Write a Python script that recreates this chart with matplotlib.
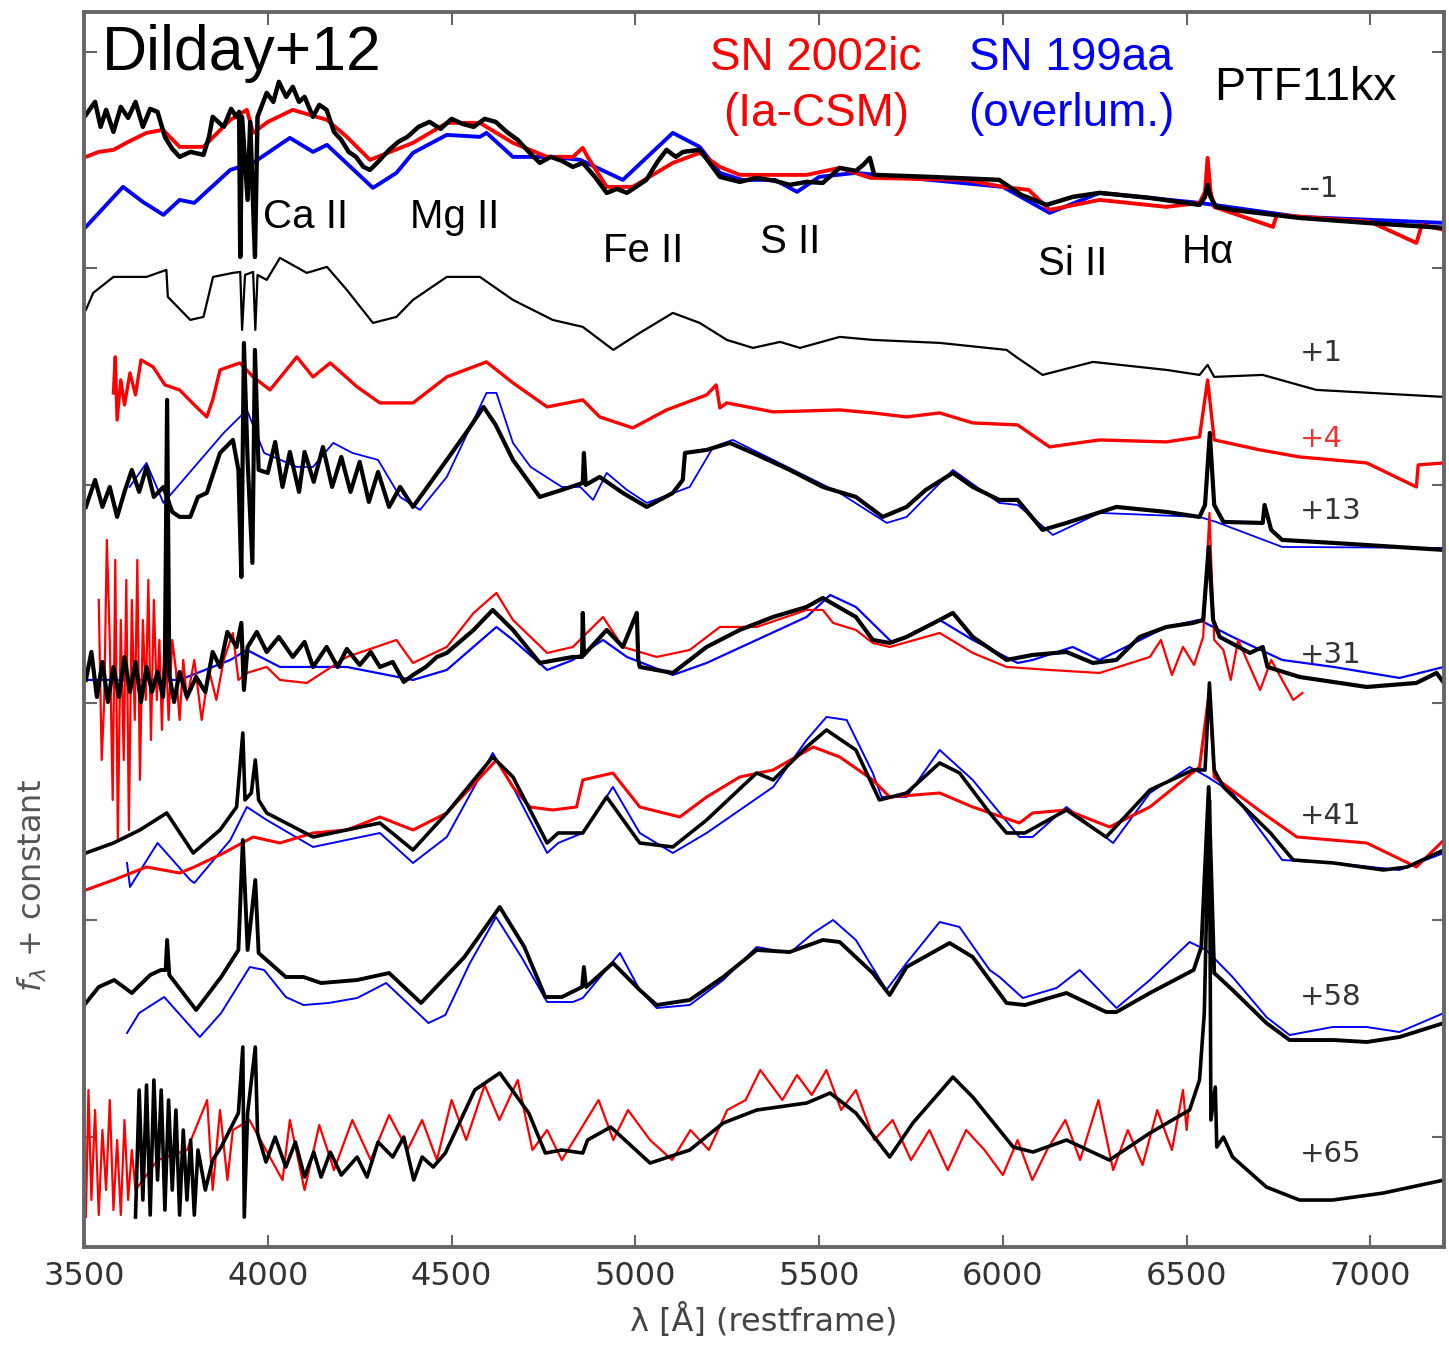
import matplotlib.pyplot as plt

# (wavelength [A], f_lambda + constant) pairs, one list per spectrum
BLACK_M1 = [(3505, 11.32), (3530, 11.45), (3545, 11.20), (3560, 11.37), (3580, 11.15), (3600, 11.40),
            (3620, 11.29), (3640, 11.45), (3660, 11.20), (3680, 11.38), (3700, 11.35), (3720, 11.10),
            (3740, 10.98), (3760, 10.90), (3790, 10.95), (3825, 10.92), (3840, 11.10), (3850, 11.30),
            (3880, 11.20), (3900, 11.38), (3915, 11.30), (3922, 11.35), (3925, 9.90), (3930, 11.30),
            (3945, 10.47), (3952, 11.25), (3965, 9.90), (3972, 11.30), (3997, 11.54), (4015, 11.45),
            (4030, 11.65), (4050, 11.50), (4068, 11.60), (4085, 11.45), (4100, 11.50), (4123, 11.30),
            (4140, 11.42), (4160, 11.37), (4180, 11.15), (4200, 11.07), (4220, 10.95), (4240, 10.90),
            (4260, 10.80), (4278, 10.77), (4300, 10.85), (4330, 10.97), (4355, 11.05), (4380, 11.10),
            (4410, 11.20), (4440, 11.25), (4470, 11.18), (4500, 11.28), (4530, 11.23), (4560, 11.20),
            (4590, 11.28), (4620, 11.25), (4650, 11.15), (4680, 11.07), (4710, 10.95), (4740, 10.84),
            (4770, 10.90), (4800, 10.86), (4830, 10.80), (4857, 10.84), (4890, 10.70), (4922, 10.54),
            (4950, 10.58), (4977, 10.54), (5030, 10.67), (5060, 10.85), (5085, 10.97), (5110, 10.90),
            (5130, 10.95), (5175, 10.97), (5200, 10.85), (5230, 10.70), (5284, 10.65), (5330, 10.69),
            (5380, 10.66), (5420, 10.62), (5466, 10.65), (5510, 10.64), (5556, 10.79), (5600, 10.76),
            (5620, 10.82), (5638, 10.89), (5650, 10.72), (5800, 10.70), (5990, 10.67), (6050, 10.52),
            (6119, 10.42), (6190, 10.50), (6263, 10.54), (6400, 10.49), (6535, 10.42), (6550, 10.50),
            (6557, 10.62), (6565, 10.50), (6580, 10.40), (6625, 10.37), (6807, 10.29), (6990, 10.24),
            (7200, 10.19)]
RED_M1 = [(3505, 10.90), (3540, 10.95), (3580, 10.97), (3620, 11.05), (3670, 11.14), (3715, 11.17),
          (3760, 11.00), (3825, 11.00), (3898, 11.27), (3943, 11.37), (3960, 11.14), (4000, 11.25),
          (4068, 11.37), (4161, 11.27), (4215, 11.10), (4278, 10.87), (4395, 11.04), (4487, 11.24),
          (4577, 11.24), (4667, 11.04), (4760, 10.90), (4830, 10.90), (4857, 10.99), (4870, 10.90),
          (4922, 10.60), (4993, 10.60), (5102, 10.84), (5175, 10.94), (5230, 10.80), (5284, 10.72),
          (5466, 10.72), (5556, 10.79), (5640, 10.69), (5900, 10.67), (6000, 10.60), (6070, 10.57),
          (6127, 10.37), (6263, 10.47), (6445, 10.40), (6535, 10.44), (6550, 10.55), (6557, 10.89),
          (6565, 10.55), (6575, 10.40), (6735, 10.20), (6745, 10.32), (7000, 10.25), (7125, 10.04),
          (7140, 10.22), (7200, 10.17)]
BLUE_M1 = [(3505, 10.20), (3606, 10.60), (3660, 10.45), (3716, 10.32), (3760, 10.47), (3800, 10.44),
           (3898, 10.77), (3960, 10.84), (4060, 11.09), (4123, 10.95), (4161, 11.02), (4286, 10.59),
           (4350, 10.74), (4395, 10.94), (4487, 11.12), (4577, 11.10), (4595, 11.14), (4667, 10.90),
           (4775, 10.90), (4850, 10.87), (4966, 10.67), (5102, 11.14), (5175, 11.00), (5230, 10.74),
           (5290, 10.67), (5380, 10.67), (5440, 10.55), (5500, 10.70), (5600, 10.74), (5800, 10.67),
           (6000, 10.60), (6127, 10.34), (6263, 10.54), (6535, 10.44), (6807, 10.30), (7200, 10.24)]
BLACK_P1 = [(3505, 9.37), (3525, 9.54), (3580, 9.70), (3670, 9.70), (3724, 9.77), (3728, 9.50),
            (3789, 9.27), (3825, 9.30), (3851, 9.70), (3905, 9.74), (3925, 9.75), (3930, 9.17),
            (3938, 9.72), (3960, 9.75), (3966, 9.17), (3972, 9.72), (3997, 9.67), (4033, 9.89),
            (4106, 9.74), (4161, 9.80), (4215, 9.57), (4286, 9.24), (4350, 9.30), (4395, 9.47),
            (4487, 9.70), (4577, 9.70), (4667, 9.47), (4775, 9.27), (4857, 9.20), (4940, 8.97),
            (5012, 9.14), (5102, 9.34), (5175, 9.24), (5249, 9.07), (5320, 8.99), (5394, 9.05),
            (5448, 8.99), (5556, 9.10), (5646, 9.07), (5828, 9.04), (6010, 8.97), (6040, 8.89),
            (6108, 8.72), (6245, 8.85), (6445, 8.77), (6535, 8.72), (6557, 8.82), (6575, 8.70),
            (6707, 8.72), (6853, 8.57), (7200, 8.50)]
RED_P4 = [(3580, 8.54), (3585, 8.90), (3590, 8.27), (3600, 8.67), (3610, 8.42), (3625, 8.74),
          (3640, 8.52), (3655, 8.87), (3688, 8.80), (3720, 8.62), (3760, 8.57), (3800, 8.42),
          (3834, 8.30), (3850, 8.47), (3870, 8.77), (3924, 8.84), (3960, 8.70), (4006, 8.57),
          (4079, 8.90), (4123, 8.70), (4170, 8.84), (4243, 8.60), (4305, 8.44), (4395, 8.44),
          (4487, 8.70), (4595, 8.85), (4667, 8.64), (4760, 8.40), (4857, 8.47), (4903, 8.30),
          (4993, 8.19), (5085, 8.37), (5194, 8.52), (5220, 8.62), (5230, 8.39), (5249, 8.44),
          (5375, 8.35), (5556, 8.37), (5646, 8.34), (5738, 8.30), (5828, 8.34), (5918, 8.24),
          (6040, 8.22), (6127, 8.00), (6263, 8.07), (6445, 8.05), (6535, 8.10), (6557, 8.67),
          (6575, 8.07), (6700, 7.97), (6807, 7.90), (6900, 7.87), (6990, 7.84), (7125, 7.60),
          (7130, 7.82), (7200, 7.84)]
BLACK_P13 = [(3505, 7.40), (3530, 7.67), (3550, 7.40), (3570, 7.60), (3590, 7.30), (3610, 7.55),
             (3630, 7.77), (3650, 7.55), (3670, 7.80), (3690, 7.50), (3716, 7.60), (3740, 7.35),
             (3760, 7.30), (3789, 7.30), (3810, 7.50), (3834, 7.54), (3870, 7.94), (3905, 8.07),
             (3920, 7.77), (3928, 6.70), (3935, 9.04), (3945, 7.87), (3958, 6.84), (3965, 8.97),
             (3975, 7.77), (4000, 7.74), (4020, 8.05), (4040, 7.60), (4060, 7.95), (4085, 7.55),
             (4100, 7.95), (4125, 7.65), (4150, 8.00), (4175, 7.60), (4200, 7.90), (4225, 7.55),
             (4250, 7.85), (4275, 7.45), (4300, 7.75), (4330, 7.40), (4360, 7.60), (4395, 7.40),
             (4487, 7.87), (4545, 8.17), (4587, 8.40), (4620, 8.22), (4667, 7.87), (4740, 7.50),
             (4800, 7.57), (4857, 7.64), (4860, 7.94), (4865, 7.62), (4903, 7.70), (4966, 7.54),
             (5031, 7.40), (5102, 7.54), (5129, 7.67), (5135, 7.94), (5194, 7.97), (5257, 8.04),
             (5320, 7.94), (5420, 7.77), (5510, 7.60), (5600, 7.50), (5673, 7.30), (5738, 7.40),
             (5790, 7.57), (5864, 7.74), (5918, 7.60), (5990, 7.47), (6040, 7.47), (6108, 7.17),
             (6173, 7.24), (6309, 7.40), (6445, 7.35), (6535, 7.30), (6550, 7.42), (6563, 8.14),
             (6575, 7.42), (6600, 7.25), (6707, 7.24), (6712, 7.42), (6730, 7.17), (6760, 7.07),
             (6900, 7.04), (7200, 6.97)]
BLUE_P13 = [(3624, 7.60), (3670, 7.84), (3716, 7.44), (3880, 8.14), (3943, 8.37), (3990, 7.94),
            (4079, 7.80), (4123, 7.80), (4178, 8.04), (4230, 7.94), (4300, 7.87), (4360, 7.50),
            (4414, 7.37), (4487, 7.70), (4595, 8.54), (4622, 8.54), (4667, 8.04), (4715, 7.80),
            (4800, 7.60), (4850, 7.60), (4885, 7.47), (4922, 7.74), (4977, 7.57), (5031, 7.44),
            (5148, 7.60), (5212, 8.00), (5265, 8.07), (5375, 7.87), (5556, 7.54), (5684, 7.24),
            (5738, 7.30), (5864, 7.77), (5990, 7.44), (6040, 7.42), (6136, 7.12), (6263, 7.34),
            (6535, 7.30), (6580, 7.25), (6760, 7.00), (7200, 6.99)]
BLACK_P31 = [(3505, 5.67), (3520, 5.95), (3535, 5.50), (3550, 5.85), (3565, 5.45), (3580, 5.80),
             (3595, 5.50), (3610, 5.90), (3625, 5.55), (3640, 5.85), (3655, 5.45), (3670, 5.80),
             (3685, 5.55), (3700, 5.75), (3715, 5.50), (3720, 5.82), (3726, 8.47), (3732, 5.72),
             (3745, 5.45), (3760, 5.75), (3780, 5.50), (3805, 5.70), (3830, 5.55), (3850, 5.95),
             (3870, 5.80), (3890, 6.15), (3915, 6.00), (3928, 6.24), (3935, 5.57), (3945, 6.00),
             (3970, 6.15), (3997, 5.95), (4030, 6.10), (4068, 5.90), (4100, 6.05), (4123, 5.80),
             (4160, 6.00), (4190, 5.80), (4215, 5.98), (4250, 5.82), (4280, 5.95), (4305, 5.80),
             (4340, 5.85), (4370, 5.65), (4395, 5.72), (4430, 5.80), (4460, 5.90), (4487, 5.94),
             (4560, 6.17), (4612, 6.37), (4667, 6.17), (4740, 5.84), (4830, 5.90), (4855, 5.90),
             (4857, 6.34), (4860, 5.92), (4922, 6.17), (4966, 6.00), (5004, 6.34), (5008, 5.87),
             (5012, 5.80), (5102, 5.74), (5194, 6.00), (5284, 6.17), (5375, 6.30), (5466, 6.40),
             (5510, 6.49), (5600, 6.30), (5646, 6.07), (5692, 6.04), (5738, 6.10), (5828, 6.27),
             (5864, 6.34), (5918, 6.10), (6010, 5.87), (6081, 5.92), (6173, 5.95), (6245, 5.84),
             (6309, 5.87), (6372, 6.10), (6445, 6.20), (6517, 6.24), (6545, 6.27), (6560, 7.00),
             (6572, 6.27), (6590, 6.10), (6672, 5.94), (6707, 6.00), (6720, 5.80), (6807, 5.70),
             (6990, 5.60), (7125, 5.64), (7180, 5.74), (7200, 5.64)]
RED_P31 = [(3540, 6.47), (3548, 4.87), (3555, 5.47), (3562, 7.07), (3570, 6.07), (3578, 4.47),
           (3585, 6.87), (3592, 4.07), (3600, 6.27), (3608, 4.87), (3615, 6.67), (3622, 4.17),
           (3630, 6.47), (3638, 5.27), (3645, 6.87), (3652, 4.67), (3660, 6.27), (3668, 5.47),
           (3675, 6.67), (3682, 5.07), (3690, 6.47), (3698, 5.47), (3705, 6.07), (3712, 5.17),
           (3720, 6.27), (3730, 5.27), (3740, 6.07), (3750, 5.77), (3760, 5.27), (3770, 5.87),
           (3780, 5.47), (3800, 5.87), (3820, 5.27), (3840, 5.77), (3860, 5.47), (3880, 5.87),
           (3905, 6.14), (3920, 5.67), (3943, 5.74), (3997, 5.80), (4033, 5.67), (4106, 5.64),
           (4215, 5.90), (4350, 6.07), (4395, 5.84), (4487, 6.00), (4560, 6.34), (4622, 6.54),
           (4667, 6.27), (4760, 5.94), (4830, 6.00), (4912, 6.30), (4966, 6.00), (5058, 5.90),
           (5148, 5.97), (5230, 6.20), (5330, 6.20), (5466, 6.37), (5510, 6.37), (5538, 6.24),
           (5600, 6.17), (5646, 6.04), (5692, 6.00), (5828, 6.14), (5918, 5.94), (6010, 5.80),
           (6127, 5.77), (6263, 5.74), (6400, 5.90), (6430, 6.07), (6460, 5.72), (6490, 6.00),
           (6520, 5.82), (6545, 6.10), (6562, 7.34), (6575, 6.07), (6600, 5.97), (6620, 5.67),
           (6640, 6.07), (6672, 5.80), (6700, 5.57), (6730, 5.87), (6760, 5.67), (6790, 5.47),
           (6815, 5.54)]
BLUE_P31 = [(3505, 5.67), (3760, 5.67), (3898, 5.87), (3943, 5.97), (4033, 5.80), (4215, 5.80),
            (4395, 5.67), (4487, 5.77), (4622, 6.20), (4667, 6.07), (4760, 5.77), (4830, 5.87),
            (4912, 6.07), (4977, 5.90), (5102, 5.72), (5194, 5.84), (5330, 6.07), (5466, 6.30),
            (5530, 6.52), (5600, 6.40), (5700, 6.04), (5828, 6.27), (5918, 6.07), (6040, 5.84),
            (6081, 5.87), (6190, 6.00), (6263, 5.87), (6445, 6.20), (6535, 6.27), (6625, 6.10),
            (6760, 5.87), (6900, 5.80), (7079, 5.69), (7200, 5.80)]
BLACK_P41 = [(3505, 3.94), (3580, 4.04), (3652, 4.17), (3725, 4.34), (3797, 3.94), (3870, 4.17),
             (3915, 4.40), (3932, 5.14), (3938, 4.47), (3955, 4.54), (3966, 4.87), (3975, 4.47),
             (3997, 4.34), (4123, 4.10), (4305, 4.24), (4395, 3.97), (4487, 4.34), (4612, 4.90),
             (4667, 4.70), (4760, 4.04), (4790, 4.14), (4857, 4.14), (4922, 4.50), (5012, 4.04),
             (5102, 4.00), (5194, 4.27), (5330, 4.74), (5375, 4.67), (5466, 5.00), (5520, 5.17),
             (5600, 4.97), (5664, 4.47), (5738, 4.54), (5828, 4.84), (5882, 4.74), (5964, 4.34),
             (6010, 4.14), (6060, 4.14), (6173, 4.37), (6281, 4.10), (6400, 4.57), (6517, 4.77),
             (6550, 4.77), (6562, 5.64), (6575, 4.77), (6600, 4.60), (6728, 4.14), (6790, 3.87),
             (6900, 3.84), (7035, 3.77), (7100, 3.80), (7200, 3.97)]
RED_P41 = [(3505, 3.57), (3580, 3.67), (3670, 3.80), (3760, 3.74), (3800, 3.80), (3880, 3.94),
           (3960, 4.10), (4033, 4.04), (4123, 4.14), (4215, 4.17), (4305, 4.30), (4395, 4.17),
           (4487, 4.34), (4622, 4.87), (4667, 4.60), (4713, 4.40), (4775, 4.37), (4840, 4.40),
           (4857, 4.67), (4939, 4.74), (5012, 4.40), (5121, 4.30), (5194, 4.50), (5284, 4.70),
           (5375, 4.77), (5484, 5.00), (5556, 4.90), (5646, 4.67), (5692, 4.50), (5828, 4.54),
           (5918, 4.40), (6045, 4.24), (6081, 4.34), (6173, 4.37), (6290, 4.20), (6400, 4.40),
           (6535, 4.80), (6562, 5.57), (6575, 4.70), (6707, 4.34), (6800, 4.10), (6990, 4.04),
           (7125, 3.80), (7200, 4.07)]
BLUE_P41 = [(3617, 3.84), (3625, 3.60), (3700, 4.04), (3789, 3.67), (3800, 3.64), (3898, 4.07),
            (3943, 4.40), (3997, 4.27), (4123, 4.00), (4305, 4.14), (4395, 3.84), (4487, 4.10),
            (4612, 4.94), (4667, 4.60), (4760, 3.94), (4790, 4.04), (4857, 4.14), (4939, 4.60),
            (5012, 4.14), (5102, 3.94), (5194, 4.14), (5375, 4.60), (5466, 5.07), (5520, 5.30),
            (5575, 5.27), (5646, 4.74), (5670, 4.50), (5738, 4.50), (5828, 4.97), (5918, 4.67),
            (6045, 4.10), (6081, 4.10), (6173, 4.40), (6300, 4.04), (6400, 4.54), (6508, 4.80),
            (6557, 4.70), (6625, 4.54), (6760, 3.87), (6900, 3.84), (7079, 3.77), (7200, 3.94)]
BLACK_P58 = [(3505, 2.44), (3540, 2.60), (3582, 2.67), (3630, 2.54), (3680, 2.72), (3709, 2.77),
             (3722, 2.77), (3726, 3.07), (3732, 2.72), (3805, 2.37), (3873, 2.70), (3920, 2.97),
             (3932, 4.07), (3945, 2.97), (3966, 3.67), (3975, 2.94), (4049, 2.70), (4097, 2.70),
             (4145, 2.64), (4243, 2.67), (4330, 2.74), (4417, 2.44), (4535, 2.90), (4631, 3.40),
             (4698, 3.00), (4755, 2.50), (4800, 2.50), (4855, 2.60), (4860, 2.80), (4866, 2.60),
             (4939, 2.84), (5012, 2.57), (5058, 2.42), (5148, 2.47), (5239, 2.70), (5330, 2.97),
             (5420, 2.95), (5510, 3.07), (5556, 3.05), (5646, 2.74), (5692, 2.52), (5738, 2.80),
             (5855, 3.04), (5918, 2.90), (6010, 2.44), (6060, 2.42), (6173, 2.54), (6281, 2.35),
             (6309, 2.35), (6400, 2.54), (6519, 2.77), (6540, 3.00), (6560, 4.60), (6575, 2.74),
             (6625, 2.57), (6717, 2.24), (6780, 2.07), (6900, 2.07), (6990, 2.05), (7079, 2.10),
             (7200, 2.24)]
BLUE_P58 = [(3617, 2.14), (3650, 2.34), (3718, 2.50), (3815, 2.10), (3873, 2.34), (3951, 2.80),
            (3990, 2.77), (4049, 2.50), (4097, 2.42), (4165, 2.44), (4243, 2.49), (4322, 2.64),
            (4437, 2.24), (4483, 2.32), (4550, 2.84), (4621, 3.30), (4690, 2.90), (4760, 2.45),
            (4830, 2.45), (4857, 2.49), (4958, 2.94), (5012, 2.57), (5058, 2.39), (5148, 2.42),
            (5239, 2.67), (5330, 3.00), (5420, 2.94), (5484, 3.14), (5538, 3.27), (5600, 3.07),
            (5683, 2.57), (5738, 2.84), (5828, 3.25), (5882, 3.20), (5964, 2.77), (5991, 2.70),
            (6054, 2.49), (6146, 2.59), (6209, 2.77), (6309, 2.39), (6400, 2.67), (6508, 3.05),
            (6553, 2.97), (6625, 2.70), (6717, 2.30), (6780, 2.12), (6897, 2.20), (6990, 2.20),
            (7079, 2.15), (7200, 2.34)]
BLACK_P65 = [(3640, 0.30), (3650, 1.57), (3660, 0.47), (3670, 1.62), (3680, 0.32), (3690, 1.67),
             (3700, 0.67), (3710, 1.57), (3720, 0.37), (3730, 1.47), (3740, 0.57), (3750, 1.37),
             (3760, 0.32), (3770, 1.17), (3780, 0.47), (3790, 1.07), (3800, 0.32), (3810, 0.97),
             (3830, 0.57), (3850, 0.87), (3873, 1.00), (3920, 1.34), (3932, 2.00), (3936, 0.30),
             (3945, 1.34), (3966, 2.00), (3972, 1.14), (3995, 0.85), (4020, 1.10), (4049, 0.80),
             (4075, 1.05), (4100, 0.70), (4125, 0.95), (4145, 0.70), (4170, 0.95), (4200, 0.72),
             (4243, 0.90), (4270, 0.70), (4300, 1.05), (4340, 0.90), (4370, 1.10), (4397, 0.67),
             (4420, 0.90), (4450, 0.80), (4483, 0.94), (4563, 1.57), (4631, 1.74), (4710, 1.34),
             (4755, 0.94), (4800, 0.97), (4857, 0.94), (4870, 1.07), (4933, 1.20), (5040, 0.84),
             (5148, 0.97), (5239, 1.24), (5330, 1.37), (5466, 1.44), (5530, 1.54), (5600, 1.34),
             (5692, 0.90), (5755, 1.24), (5864, 1.70), (5918, 1.50), (6028, 1.00), (6082, 0.95),
             (6173, 1.07), (6290, 0.87), (6400, 1.14), (6508, 1.37), (6535, 1.67), (6548, 2.34),
             (6556, 3.67), (6562, 4.47), (6566, 1.27), (6578, 1.60), (6582, 1.00), (6600, 1.10),
             (6625, 0.90), (6717, 0.60), (6807, 0.47), (6897, 0.47), (7035, 0.54), (7200, 0.67)]
RED_P65 = [(3505, 0.30), (3512, 1.57), (3520, 0.47), (3530, 1.37), (3540, 0.32), (3550, 1.17),
           (3560, 0.57), (3570, 1.47), (3580, 0.37), (3590, 1.07), (3600, 0.32), (3610, 1.27),
           (3620, 0.47), (3630, 0.97), (3640, 0.57), (3700, 0.87), (3780, 0.97), (3835, 1.47),
           (3850, 0.57), (3870, 1.37), (3890, 0.67), (3905, 1.17), (3950, 1.27), (3980, 1.07),
           (4040, 0.67), (4060, 1.27), (4100, 0.57), (4140, 1.22), (4180, 0.77), (4230, 1.27),
           (4280, 0.87), (4330, 1.32), (4380, 0.97), (4420, 1.27), (4460, 0.87), (4500, 1.47),
           (4540, 1.07), (4590, 1.62), (4630, 1.27), (4680, 1.67), (4720, 0.97), (4760, 1.17),
           (4800, 0.87), (4850, 1.17), (4900, 1.47), (4940, 1.07), (4980, 1.37), (5040, 1.07),
           (5100, 0.87), (5150, 1.17), (5200, 0.97), (5250, 1.37), (5300, 1.47), (5340, 1.77),
           (5400, 1.47), (5440, 1.72), (5480, 1.52), (5520, 1.77), (5560, 1.37), (5600, 1.57),
           (5650, 1.07), (5700, 1.27), (5750, 0.87), (5800, 1.17), (5850, 0.77), (5900, 1.17),
           (5950, 0.97), (6000, 0.72), (6040, 1.07), (6080, 0.67), (6120, 0.97), (6170, 1.27),
           (6210, 0.87), (6260, 1.47), (6300, 0.77), (6340, 1.17), (6380, 0.82), (6420, 1.37),
           (6460, 0.97), (6490, 1.57), (6500, 1.17), (6505, 1.37)]

EPOCHS = ['--1', '+1', '+4', '+13', '+31', '+41', '+58', '+65']
EPOCH_LEVELS = [10.58, 8.94, 8.08, 7.36, 5.92, 4.31, 2.50, 0.93]
LINE_IDS = ['Ca II', 'Mg II', 'Fe II', 'S II', 'Si II', 'Hα']
LINE_ID_WAVES = [3987, 4387, 4912, 5338, 6095, 6486]
LINE_ID_LEVELS = [10.19, 10.19, 9.85, 9.94, 9.72, 9.84]


def draw_spectra(ax):
    spectra = [
        (BLUE_M1, 'blue', 2.8), (RED_M1, 'red', 2.8), (BLACK_M1, 'black', 3.2),
        (BLACK_P1, 'black', 1.6),
        (RED_P4, 'red', 2.4),
        (BLUE_P13, 'blue', 1.3), (BLACK_P13, 'black', 3.0),
        (BLUE_P31, 'blue', 1.6), (RED_P31, 'red', 1.6), (BLACK_P31, 'black', 3.0),
        (BLUE_P41, 'blue', 1.4), (RED_P41, 'red', 2.2), (BLACK_P41, 'black', 2.6),
        (BLUE_P58, 'blue', 1.4), (BLACK_P58, 'black', 2.8),
        (RED_P65, 'red', 1.6), (BLACK_P65, 'black', 2.6),
    ]
    for pairs, color, lw in spectra:
        wave, flux = zip(*pairs)
        ax.plot(wave, flux, color=color, lw=lw)


def main():
    fig = plt.figure(figsize=(14.49, 13.47), dpi=100)
    ax = fig.add_axes([0.058, 0.0742, 0.9385, 0.917])

    draw_spectra(ax)

    ax.set_xlim(3500, 7200)
    ax.set_ylim(0, 12.35)
    ax.set_xticks([3500, 4000, 4500, 5000, 5500, 6000, 6500, 7000])
    ax.set_yticks([1.10, 3.27, 5.44, 7.62, 9.79, 11.95])
    ax.set_yticklabels([])
    ax.tick_params(direction='in', length=9, width=1.5, color='#666666',
                   top=True, right=True, labelsize=23, labelcolor='#333333', pad=10)
    for spine in ax.spines.values():
        spine.set_color('#666666')
        spine.set_linewidth(2.8)

    ax.set_xlabel('λ [Å] (restframe)', fontsize=23, color='#444444', labelpad=8)
    ax.set_ylabel(r'$f_\lambda$ + constant', fontsize=23, color='#555555')
    ax.yaxis.set_label_coords(-0.026, 0.293)

    sans = ['Liberation Sans', 'DejaVu Sans']
    ax.text(3549, 11.77, 'Dilday+12', fontsize=45, family=sans, va='baseline')
    ax.text(5491, 11.77, 'SN 2002ic', fontsize=33, family=sans, color='red',
            ha='center', va='baseline')
    ax.text(5491, 11.21, '(Ia-CSM)', fontsize=33, family=sans, color='red',
            ha='center', va='baseline')
    ax.text(6185, 11.77, 'SN 199aa', fontsize=33, family=sans, color='blue',
            ha='center', va='baseline')
    ax.text(6185, 11.21, '(overlum.)', fontsize=33, family=sans, color='blue',
            ha='center', va='baseline')
    ax.text(6576, 11.47, 'PTF11kx', fontsize=33.5, family=sans, va='baseline')

    for name, wave, level in zip(LINE_IDS, LINE_ID_WAVES, LINE_ID_LEVELS):
        ax.text(wave, level, name, fontsize=29, family=sans, va='baseline')

    for label, level in zip(EPOCHS, EPOCH_LEVELS):
        color = '#ee3333' if label == '+4' else '#333333'
        ax.text(6807, level, label, fontsize=21, color=color, va='center')

    fig.savefig('out.png', dpi=100)


if __name__ == '__main__':
    main()
